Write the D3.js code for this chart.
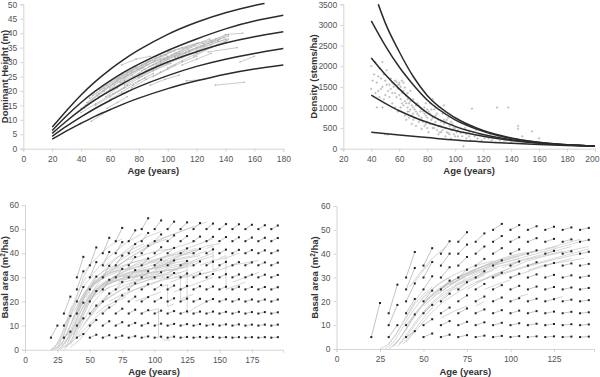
<!DOCTYPE html>
<html>
<head>
<meta charset="utf-8">
<script src="https://cdn.jsdelivr.net/npm/d3@7"></script>
<style>
  body { margin: 0; background: #fff; }
  svg { display: block; font-family: "Liberation Sans", Arial, sans-serif; }
  .axis path, .axis line { stroke: #d4d4d4; }
  .axis text { fill: #555; font-size: 8.5px; }
  .title { font-weight: bold; font-size: 9.5px; fill: #333; }
</style>
</head>
<body>
<script>
// ---- panel A: dominant height curves + observed trajectories
const heightCurves = [
  [[20,7.5],[30,13.2],[40,18.6],[50,23.3],[60,27.4],[70,31],[80,34.2],[100,39.6],[120,43.8],[140,47.1],[160,49.6],[167,50.3]],
  [[20,6.3],[30,11.4],[40,16],[50,20],[60,23.5],[70,26.6],[80,29.3],[100,34],[120,38],[140,41.5],[160,44.2],[180,46.2]],
  [[20,5.3],[30,9.6],[40,13.5],[50,17],[60,20],[70,22.9],[80,25.5],[100,30],[120,33.6],[140,36.6],[160,38.8],[180,40.5]],
  [[20,4.3],[30,7.8],[40,11],[50,14],[60,16.7],[70,19.2],[80,21.5],[100,25.3],[120,28.5],[140,31],[160,33],[180,34.7]],
  [[20,3.3],[30,6.2],[40,8.8],[50,11.3],[60,13.5],[70,15.6],[80,17.5],[100,20.8],[120,23.5],[140,25.8],[160,27.6],[180,29]]
];
const heightObs = [
  [[42,14],[50,17],[60,20.5],[70,23]],
  [[44,16],[52,19],[62,22.5],[72,25.5],[82,28]],
  [[46,17.5],[56,21],[66,24.5],[76,27.5],[86,30]],
  [[40,12.5],[50,15.5],[60,18.5],[70,21]],
  [[48,18.5],[58,22],[68,25.5],[78,28.5]],
  [[50,15],[60,18],[70,21],[80,23.5],[90,26]],
  [[55,20],[65,23.5],[75,26.5],[85,29],[95,31]],
  [[60,21],[70,24.5],[80,27.5],[90,30],[100,32]],
  [[62,19],[72,22],[82,25],[92,27.5],[102,29.5]],
  [[65,24],[75,27],[85,29.5],[95,32],[105,34]],
  [[70,22],[80,25],[90,27.5],[100,30],[110,32]],
  [[72,26.5],[82,29],[92,31.5],[102,33.5]],
  [[75,21],[85,24],[95,26.5],[105,29]],
  [[78,28],[88,30.5],[98,32.5],[108,34.5],[118,36]],
  [[80,24.5],[90,27],[100,29.5],[110,31.5],[120,33.5]],
  [[85,27],[95,29.5],[105,32],[115,34],[125,35.5]],
  [[90,25],[100,27.5],[110,30],[120,32]],
  [[95,30],[105,32],[115,34],[125,36],[135,37.5]],
  [[100,28],[110,30.5],[120,33],[130,35],[140,37]],
  [[105,31.5],[115,33.5],[125,35.5],[135,37],[142,38]],
  [[110,29],[120,31],[130,33]],
  [[120,34],[130,36],[140,38]],
  [[125,36.5],[133,38],[142,39.5]],
  [[130,37],[140,39.5],[152,40]],
  [[133,22],[153,23]],
  [[150,30],[160,32]],
  [[47,9.5],[55,12]],
  [[58,14],[65,16],[72,18]],
  [[88,22],[98,24],[108,25.5]],
  [[113,23.5],[125,24]],
  [[128,33.5],[148,35]],
  [[52,18],[62,21],[70,23.5],[80,26]],
  [[68,29],[78,31],[88,32]],
  [[100,33.5],[110,35],[120,36.5],[130,37.5]],
  [[45,15.5],[55,18.5],[65,21.5]],
  [[40,14],[48,17],[56,20],[64,23]],
  [[43,15],[51,18.5],[59,21.5],[67,24.5],[75,27]],
  [[53,20.5],[61,23.5],[69,26],[77,28.5],[85,30.5]],
  [[57,18],[65,21],[73,23.5],[81,26],[89,28]],
  [[63,22],[71,25],[79,27.5],[87,30],[95,32]],
  [[67,23],[75,25.5],[83,28],[91,30.5],[99,32.5]],
  [[82,27],[90,29],[98,31],[106,33],[114,34.5]],
  [[87,28.5],[95,30.5],[103,32.5],[111,34.5],[119,36]],
  [[92,29],[100,31],[108,33],[116,35],[124,36.5]],
  [[97,31],[105,33],[113,35],[121,36.5],[129,38]],
  [[107,32],[115,34],[123,35.5],[131,37],[139,38.5]],
  [[112,33],[120,35],[128,36.5],[136,38],[142,39]],
  [[118,32],[126,34],[134,36],[141,37.5]],
  [[60,17],[68,19.5],[76,22],[84,24.5]],
  [[76,25],[84,27.5],[92,29.5],[100,31.5],[108,33]]
];

// ---- panel B: density curves + observed plots
const densityCurves = [
  [[45,3500],[50,3050],[60,2350],[70,1750],[80,1290],[100,750],[120,440],[140,260],[160,155],[180,95],[200,65]],
  [[40,3100],[50,2500],[60,1980],[70,1550],[80,1180],[100,700],[120,420],[140,250],[160,150],[180,93],[200,64]],
  [[40,2200],[50,1800],[60,1450],[70,1140],[80,870],[100,540],[120,345],[140,220],[160,140],[180,90],[200,62]],
  [[40,1300],[50,1100],[60,920],[70,770],[80,640],[100,440],[120,300],[140,200],[160,130],[180,88],[200,60]],
  [[40,400],[60,330],[80,270],[100,210],[120,165],[140,130],[160,100],[180,75],[200,58]]
];
const densityObs = [
  [40,2000],[40,1450],[42,1800],[43,2100],[44,1600],[45,1400],[46,1950],[47,1700],[48,1500],[48,2100],
  [50,1650],[50,1300],[51,1900],[52,1400],[53,1550],[44,1000],[48,1000],[50,350],[52,340],[49,1200],[46,1250],
  [54,1700],[55,1350],[56,1500],[57,1650],[58,1250],[59,1450],[60,1600],[60,1550],[61,1500],[62,1350],
  [63,1600],[64,1150],[55,1100],[57,1000],[59,900],[62,1650],[64,1480],[56,1580],[58,1620],
  [65,1300],[66,1200],[67,1100],[68,950],[69,1050],[70,1200],[66,900],[67,750],[68,1400],[70,850],
  [63,1050],[64,800],[61,1000],[65,700],[69,600],[70,1000],[66,1350],
  [72,900],[73,1100],[74,800],[75,700],[76,950],[77,650],[78,850],[79,600],[80,750],[72,550],
  [74,1050],[76,480],[78,1000],[80,500],[71,750],[75,900],[79,1100],[80,950],
  [82,850],[83,700],[84,1200],[85,600],[86,800],[87,450],[88,700],[89,550],[90,650],[82,1100],
  [84,500],[86,1000],[88,350],[90,400],[81,400],[85,950],
  [92,600],[93,500],[94,700],[95,380],[96,550],[97,450],[98,600],[100,500],[91,850],[93,300],
  [97,250],[99,350],[95,750],[100,300],[92,1050],
  [102,450],[104,380],[106,60],[105,300],[107,500],[108,350],[110,400],[112,970],[112,550],[114,300],
  [115,450],[116,250],[118,350],[120,300],[122,400],[124,250],[125,350],[126,200],[128,300],[130,250],
  [130,1000],[132,200],[135,180],[138,1000],[140,150],[145,550],[145,480],[148,300],[155,420],[160,250],
  [165,120],[170,100],[150,200],[103,200],[108,600],[111,200],
  [41,1650],[43,1350],[45,1750],[47,1450],[49,1800],[51,1550],[53,1250],[54,1450],[55,1600],[57,1350],
  [59,1550],[60,1300],[61,1200],[62,1100],[63,1400],[65,1100],[66,1000],[67,900],[68,1150],[69,800],
  [70,700],[71,950],[72,1050],[73,850],[74,650],[75,1000],[76,750],[77,900],[78,550],[79,800],
  [80,650],[81,900],[82,600],[83,950],[84,750],[85,500],[86,650],[87,850],[88,550],[89,400],
  [90,550],[91,450],[92,700],[93,650],[94,400],[96,350],[97,650],[98,450],[99,500],[101,400],
  [102,300],[104,500],[106,400],[108,250],[110,300],[113,400],[117,350],[119,200],[121,250],[123,300],
  [127,250],[129,150],[131,300],[134,250],[137,200],[142,200]
];

// ---- panel C: basal area, observed trajectories and 5-year projections
const baObsC = [
  [[20,0],[25,1],[30,4],[35,10],[40,16],[45,21],[50,24]],
  [[22,0],[28,2],[33,7],[38,14],[43,20],[50,26],[58,29]],
  [[25,0],[30,2],[35,6],[40,12],[45,18],[52,24],[60,27],[68,29]],
  [[27,0],[32,2],[37,7],[42,13],[48,19],[55,24],[63,27],[72,29]],
  [[30,0],[35,3],[40,9],[45,16],[52,23],[60,27],[70,30],[80,31]],
  [[32,1],[37,5],[42,11],[48,18],[55,25],[65,29],[75,32]],
  [[35,2],[40,7],[45,14],[50,20],[58,26],[68,30],[78,33],[90,35]],
  [[21,0],[26,3],[31,9],[36,17],[41,24],[47,30]],
  [[23,1],[29,5],[34,12],[40,20],[46,27],[53,31]],
  [[36,12],[42,19],[48,25],[55,28],[62,30]],
  [[38,16],[44,22],[50,27],[58,30],[66,32],[75,33]],
  [[40,18],[46,24],[54,28],[62,31],[72,33],[85,34]],
  [[45,20],[50,23],[58,26],[66,28],[75,29],[85,30],[95,31]],
  [[50,21],[58,24],[66,26],[75,28],[85,29],[95,30],[105,30.5]],
  [[55,25],[62,28],[70,30],[80,32],[90,33],[100,34]],
  [[60,26],[68,28],[78,30],[88,31],[98,32],[108,33],[118,33]],
  [[65,28],[72,30],[82,32],[92,33],[102,34],[112,35]],
  [[70,25],[78,27],[88,29],[98,30],[108,31],[120,32]],
  [[75,30],[85,32],[95,33],[105,35],[115,36],[125,37]],
  [[80,27],[90,29],[100,31],[110,33],[120,34],[130,35]],
  [[85,31],[95,33],[105,35],[115,37],[125,38],[135,39]],
  [[90,28],[100,30],[110,32],[120,34],[130,36]],
  [[60,30],[70,34],[80,38],[90,41],[100,44],[110,46]],
  [[55,30],[65,35],[75,40],[85,44],[95,47],[105,49]],
  [[50,30],[60,36],[70,41],[80,45],[90,48]],
  [[45,32],[55,38],[65,43],[75,46]],
  [[65,32],[80,38],[95,43],[110,47],[125,50],[140,53]],
  [[70,36],[85,41],[100,45],[115,48],[130,51]],
  [[75,22],[85,25],[95,27],[105,29],[115,31],[125,33]],
  [[65,20],[75,23],[85,25],[95,27]],
  [[45,10],[50,14],[55,18],[62,22],[70,25]],
  [[40,6],[45,10],[50,14],[56,18],[64,22]],
  [[30,1],[38,4],[45,8],[52,12],[60,16],[70,19]],
  [[35,1],[42,4],[48,8],[55,13]],
  [[95,36],[105,38],[115,40],[125,42],[135,44],[145,46]],
  [[100,33],[110,36],[120,39],[130,41],[140,43],[150,44]],
  [[105,30],[115,33],[125,36],[135,38],[145,40]],
  [[95,16],[103,17],[103,6],[107,4],[112,4]],
  [[115,30],[120,31],[120,21],[125,22],[130,23]],
  [[120,35],[125,36],[125,15],[130,17],[140,20]],
  [[140,42],[145,43],[145,33],[150,34]],
  [[150,38],[155,39],[155,25],[160,26],[170,28]],
  [[105,26],[110,27],[110,18],[115,19]],
  [[130,30],[140,32],[150,33],[160,35],[170,36],[180,37]],
  [[85,20],[95,22],[105,24]],
  [[55,15],[62,18],[70,20],[78,22]],
  [[115,24],[125,26],[135,28],[145,30]],
  [[160,28],[170,30],[180,32]],
  [[25,1],[30,6],[35,14],[40,22],[45,30],[50,35]],
  [[20,0],[24,2],[28,6],[32,12],[36,18]],
  [[33,3],[38,10],[43,18],[48,25],[54,30],[62,33],[70,35]],
  [[28,1],[33,5],[38,12],[44,20],[50,26],[58,30],[66,33],[76,35],[88,37]],
  [[37,6],[42,12],[47,19],[53,25],[60,30],[70,33],[82,36],[95,38]],
  [[42,15],[48,21],[55,26],[64,29],[74,31],[86,33],[98,35],[110,37]],
  [[47,22],[53,27],[60,31],[68,34],[78,37],[90,39],[102,41],[115,42]],
  [[52,26],[58,29],[66,31],[75,33],[85,35],[97,37],[110,39],[122,40]],
  [[57,24],[64,27],[72,29],[82,31],[92,33],[104,34],[116,36]],
  [[62,27],[70,29],[80,30],[90,31],[100,32],[112,33],[124,34]],
  [[67,30],[75,32],[85,34],[95,36],[107,38],[120,40],[132,42]],
  [[72,28],[82,30],[92,31],[102,33],[114,35],[126,36]],
  [[77,33],[87,36],[97,38],[108,41],[120,43],[132,45]],
  [[82,29],[92,32],[102,35],[112,37],[124,40],[136,42]],
  [[87,34],[97,36],[107,37],[118,39],[130,40]],
  [[92,30],[102,32],[112,34],[122,35],[134,37],[146,39]],
  [[97,27],[107,29],[117,30],[127,31],[137,33]],
  [[48,12],[54,16],[60,20],[68,23],[78,26],[90,28]],
  [[58,19],[66,22],[75,25],[85,27],[96,29],[108,30]],
  [[42,9],[47,14],[52,19],[58,23],[65,26]],
  [[26,0],[31,3],[36,8],[41,14],[46,19],[52,23],[60,26]],
  [[24,0],[29,3],[34,9],[39,15],[44,21],[49,25],[55,28]],
  [[110,36],[120,38],[130,39],[140,41]],
  [[112,28],[122,30],[132,31],[142,32]],
  [[135,35],[145,37],[155,38],[165,40]],
  [[60,34],[70,38],[80,41],[92,44]]
];
const gridLevels = [5,10,15,20,25,30,35,40,45,50];
const startAgesC = [20,30,40,50,60,70,80,90,100,110,120,130,140,150,160,170,180,190];
// projected basal area 5 years later, one row per start age, one value per level
const projC = [
  [10],
  [7.5,14,22],
  [6.5,13,19.5,26,32.5,38.5],
  [6.2,12.3,18.3,24.3,30.3,36.3,42.4],
  [6,11.8,17.5,23.3,29,34.8,40.5,46.4],
  [5.8,11.4,17,22.5,28,33.5,39,44.6,50.5],
  [5.6,11.1,16.6,22,27.5,33,38.4,43.8,49.5],
  [5.5,11,16.4,21.8,27.1,32.5,37.8,43.1,48.4,54.5],
  [5.4,10.8,16.2,21.5,26.8,32.1,37.3,42.5,47.8,53.6],
  [5.4,10.7,16,21.3,26.6,31.8,37,42.2,47.4,53.1],
  [5.3,10.6,15.9,21.2,26.4,31.6,36.8,42,47.1,52.8],
  [5.3,10.6,15.8,21.1,26.3,31.5,36.6,41.8,46.9,52.5],
  [5.3,10.5,15.8,21,26.2,31.4,36.5,41.6,46.8,52.3],
  [5.2,10.5,15.7,20.9,26.1,31.3,36.4,41.5,46.7,52.1],
  [5.2,10.5,15.7,20.9,26.1,31.2,36.3,41.4,46.6,52],
  [5.2,10.4,15.6,20.8,26,31.1,36.2,41.3,46.5,51.8],
  [5.2,10.4,15.6,20.8,26,31.1,36.2,41.2,46.4,51.6],
  [5.2,10.4,15.5,20.8,25.9,31,36.1,41.1,46.3,51.5]
];

// ---- panel D: basal area, second model
const baObsD = [
  [[25,0],[30,2],[35,7],[40,13],[45,19],[50,23],[55,26]],
  [[28,0],[33,3],[38,9],[43,15],[50,22],[58,27],[65,30]],
  [[30,0],[35,3],[40,8],[45,14],[52,21],[60,26],[70,30],[80,33]],
  [[32,1],[37,5],[42,11],[48,17],[55,23],[63,27],[72,31]],
  [[35,1],[40,5],[45,10],[52,17],[60,22],[70,27],[80,30],[90,33]],
  [[38,2],[44,7],[50,13],[57,19],[65,24],[75,28],[85,31]],
  [[40,3],[46,8],[53,14],[60,19],[70,24],[80,28],[90,31],[100,34]],
  [[45,15],[50,19],[57,24],[65,28],[75,32],[85,35],[95,37]],
  [[48,20],[55,25],[62,29],[70,32],[80,35],[90,37]],
  [[55,22],[62,25],[70,29],[78,32],[88,35],[100,38],[110,40]],
  [[60,25],[68,29],[76,32],[85,35],[95,38],[105,40],[115,41]],
  [[65,27],[72,30],[80,32],[90,35],[100,37],[110,39],[120,41],[130,43],[140,45]],
  [[70,30],[78,33],[86,35],[95,37],[105,39]],
  [[75,25],[82,28],[90,31],[100,34],[110,37],[120,39],[132,41],[145,43]],
  [[80,28],[88,30],[96,32],[105,34],[115,36],[125,38],[135,40],[145,42]],
  [[100,30],[108,32],[116,34],[125,36],[135,38]],
  [[45,28],[50,33],[55,37]],
  [[42,26],[48,32],[55,38],[63,43]],
  [[30,2],[34,6],[38,11],[42,16],[46,21],[50,25]],
  [[85,25],[92,27],[100,29]],
  [[110,33],[118,35],[126,36],[134,37],[142,38]],
  [[120,42],[130,44],[140,46]],
  [[80,18],[85,20]],
  [[60,13],[68,16],[75,18]],
  [[105,22],[110,23]],
  [[125,21],[130,22]],
  [[33,1],[38,6],[43,12],[49,18],[56,23],[64,27],[74,30]],
  [[36,2],[41,7],[47,13],[54,19],[62,24],[72,28],[82,31],[92,34]],
  [[50,18],[58,23],[66,27],[75,31],[85,34],[95,36],[105,38]],
  [[58,24],[65,28],[73,31],[82,34],[92,37],[103,39],[115,41],[127,43]],
  [[68,27],[76,30],[85,33],[95,35],[106,37],[118,39],[130,41]],
  [[90,30],[98,32],[107,34],[117,36],[128,38],[140,40]],
  [[95,34],[105,37],[115,39],[125,41],[135,43]]
];
const startAgesD = [20,30,40,50,60,70,80,90,100,110,120,130,140];
const projD = [
  [19.3],
  [10,18.5,27],
  [7.5,14.5,21,27.5,34,40.7],
  [6.5,12.5,18.5,24.5,30.5,36.5,42.3],
  [6,11.7,17.4,23.2,28.7,34.3,40,45.2],
  [5.8,11.4,17,22.5,28,33.3,38.6,43.8,49],
  [5.6,11.2,16.6,22,27.3,32.6,37.8,43,48.5],
  [5.5,11,16.3,21.6,26.8,32,37.2,42.3,47.4,52.5],
  [5.4,10.8,16.1,21.3,26.5,31.6,36.7,41.8,46.9,52],
  [5.3,10.6,15.9,21.1,26.2,31.3,36.4,41.4,46.5,51.5],
  [5.3,10.5,15.7,20.9,26,31.1,36.1,41.2,46.2,51.3],
  [5.2,10.4,15.6,20.7,25.8,30.9,35.9,41,46,51],
  [5.2,10.3,15.4,20.5,25.6,30.7,35.7,40.8,45.8,50.8]
];

const W = 600, H = 377;
const svg = d3.select("body").append("svg").attr("width", W).attr("height", H);

function panel(opt) {
  const x = d3.scaleLinear().domain(opt.xDomain).range(opt.xRange);
  const y = d3.scaleLinear().domain(opt.yDomain).range(opt.yRange);
  const g = svg.append("g");

  const xa = g.append("g").attr("class", "axis")
    .attr("transform", `translate(0,${opt.yRange[0]})`)
    .call(d3.axisBottom(x).tickValues(opt.xTicks).tickSize(3).tickPadding(4).tickFormat(d3.format("d")));
  // keep the last label inside the picture
  xa.selectAll(".tick text").filter(d => x(d) > W - 8).attr("text-anchor", "end").attr("x", W - 1 - x(opt.xTicks[opt.xTicks.length - 1]));
  g.append("g").attr("class", "axis")
    .attr("transform", `translate(${opt.xRange[0]},0)`)
    .call(d3.axisLeft(y).tickValues(opt.yTicks).tickSize(3).tickPadding(3).tickFormat(d3.format("d")));

  g.append("text").attr("class", "title")
    .attr("x", (opt.xRange[0] + opt.xRange[1]) / 2).attr("y", opt.xTitleY)
    .attr("text-anchor", "middle").text("Age (years)");
  const yt = g.append("text").attr("class", "title")
    .attr("transform", `translate(${opt.yTitleX},${(opt.yRange[0] + opt.yRange[1]) / 2}) rotate(-90)`)
    .attr("text-anchor", "middle");
  if (opt.yTitleSup) {
    yt.append("tspan").text(opt.yTitle[0]);
    yt.append("tspan").attr("dy", -3).style("font-size", "6.5px").text(opt.yTitleSup);
    yt.append("tspan").attr("dy", 3).text(opt.yTitle[1]);
  } else {
    yt.text(opt.yTitle);
  }
  return {g, x, y};
}

// A
{
  const {g, x, y} = panel({
    xDomain: [0, 180], xRange: [23.3, 283.3], yDomain: [0, 50], yRange: [148.7, 4.3],
    xTicks: d3.range(0, 181, 20), yTicks: d3.range(0, 51, 5),
    xTitleY: 174, yTitleX: 8, yTitle: "Dominant Height (m)"
  });
  const line = d3.line().x(d => x(d[0])).y(d => y(d[1]));
  g.selectAll(".obs").data(heightObs).join("path")
    .attr("d", line).attr("fill", "none").attr("stroke", "#bdbdbd").attr("stroke-width", 0.8);
  g.selectAll(".obsPt").data(heightObs.flat()).join("circle")
    .attr("cx", d => x(d[0])).attr("cy", d => y(d[1])).attr("r", 0.8).attr("fill", "#b0b0b0");
  g.selectAll(".curve").data(heightCurves).join("path")
    .attr("d", line.curve(d3.curveNatural)).attr("fill", "none").attr("stroke", "#2b2b2b").attr("stroke-width", 1.5);
}

// B
{
  const {g, x, y} = panel({
    xDomain: [20, 200], xRange: [343.3, 595], yDomain: [0, 3500], yRange: [148.7, 4.3],
    xTicks: d3.range(20, 201, 20), yTicks: d3.range(0, 3501, 500),
    xTitleY: 174, yTitleX: 317, yTitle: "Density (stems/ha)"
  });
  g.selectAll(".pt").data(densityObs).join("path")
    .attr("d", d => `M${x(d[0]) - 1.2},${y(d[1])}h2.4M${x(d[0])},${y(d[1]) - 1.2}v2.4`)
    .attr("stroke", "#b0b0b0").attr("stroke-width", 0.7);
  const line = d3.line().x(d => x(d[0])).y(d => y(d[1])).curve(d3.curveMonotoneX);
  g.selectAll(".curve").data(densityCurves).join("path")
    .attr("d", line).attr("fill", "none").attr("stroke", "#2b2b2b").attr("stroke-width", 1.5);
}

function basalPanel(opt, obs, startAges, proj) {
  const {g, x, y} = panel(opt);
  const line = d3.line().x(d => x(d[0])).y(d => y(d[1]));
  g.selectAll(".obs").data(obs).join("path")
    .attr("d", line).attr("fill", "none").attr("stroke", "#c4c4c4").attr("stroke-width", 0.7);
  const arrows = [];
  startAges.forEach((a, i) => proj[i].forEach((v, j) => arrows.push([[a, gridLevels[j]], [a + 5, v]])));
  g.selectAll(".proj").data(arrows).join("path")
    .attr("d", line).attr("fill", "none").attr("stroke", "#aaa").attr("stroke-width", 0.7);
  g.selectAll(".dot").data(arrows.flat()).join("rect")
    .attr("x", d => x(d[0]) - 1).attr("y", d => y(d[1]) - 1)
    .attr("width", 2).attr("height", 2).attr("fill", "#222");
}

// C
basalPanel({
  xDomain: [0, 199], xRange: [25, 283], yDomain: [0, 60], yRange: [349.7, 205],
  xTicks: d3.range(0, 176, 25), yTicks: d3.range(0, 61, 10),
  xTitleY: 375, yTitleX: 8, yTitle: ["Basal area (m", "/ha)"], yTitleSup: "2"
}, baObsC, startAgesC, projC);

// D
basalPanel({
  xDomain: [0, 148], xRange: [336.5, 594], yDomain: [0, 60], yRange: [349, 206],
  xTicks: d3.range(0, 126, 25), yTicks: d3.range(0, 61, 10),
  xTitleY: 375, yTitleX: 318, yTitle: ["Basal area (m", "/ha)"], yTitleSup: "2"
}, baObsD, startAgesD, projD);
</script>
</body>
</html>
